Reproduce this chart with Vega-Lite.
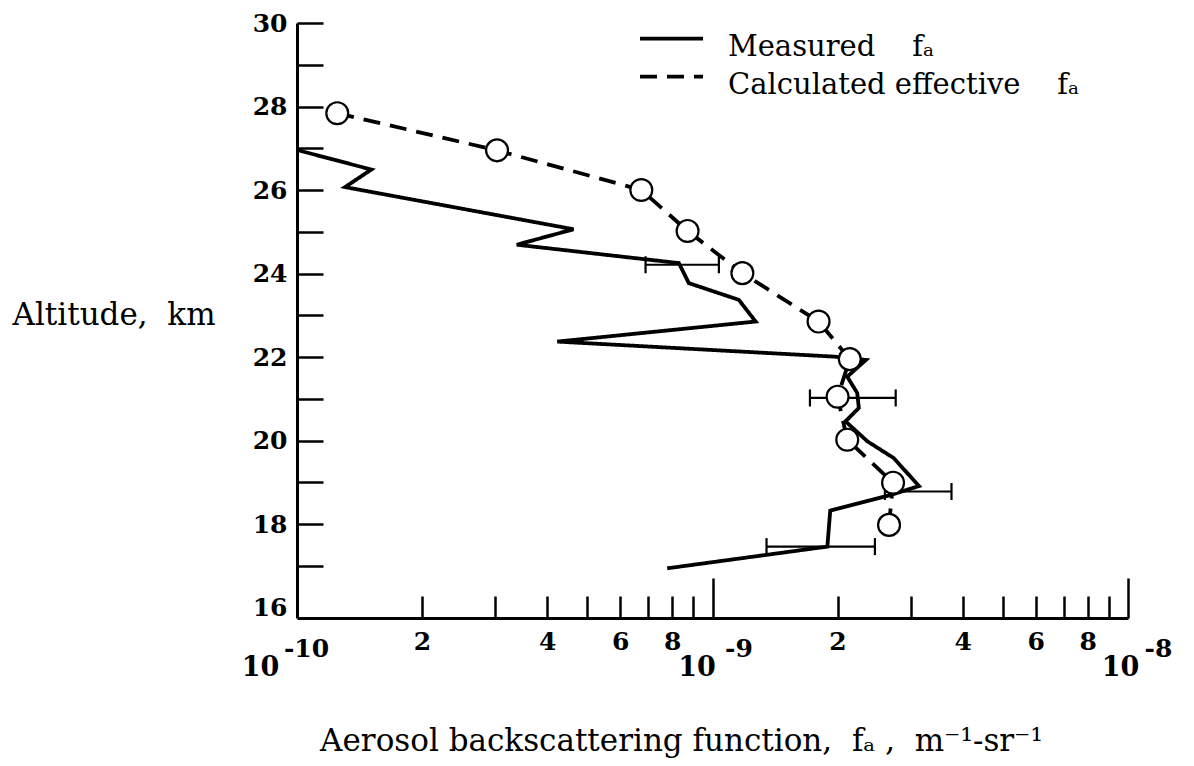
{
  "$schema": "https://vega.github.io/schema/vega-lite/v6.json",
  "width": 831,
  "height": 595,
  "autosize": {"type": "none"},
  "padding": {"left": 297, "top": 23, "right": 66, "bottom": 148},
  "background": "white",
  "datasets": {
    "lines": [
      {"series": "Measured\u00a0\u00a0\u00a0\u00a0f\u2090", "f": 1.0e-10, "alt": 26.96},
      {"series": "Measured\u00a0\u00a0\u00a0\u00a0f\u2090", "f": 1.51e-10, "alt": 26.49},
      {"series": "Measured\u00a0\u00a0\u00a0\u00a0f\u2090", "f": 1.305e-10, "alt": 26.07},
      {"series": "Measured\u00a0\u00a0\u00a0\u00a0f\u2090", "f": 4.63e-10, "alt": 25.06},
      {"series": "Measured\u00a0\u00a0\u00a0\u00a0f\u2090", "f": 3.38e-10, "alt": 24.69},
      {"series": "Measured\u00a0\u00a0\u00a0\u00a0f\u2090", "f": 8.30e-10, "alt": 24.25},
      {"series": "Measured\u00a0\u00a0\u00a0\u00a0f\u2090", "f": 8.77e-10, "alt": 23.77},
      {"series": "Measured\u00a0\u00a0\u00a0\u00a0f\u2090", "f": 1.157e-9, "alt": 23.37},
      {"series": "Measured\u00a0\u00a0\u00a0\u00a0f\u2090", "f": 1.27e-9, "alt": 22.85},
      {"series": "Measured\u00a0\u00a0\u00a0\u00a0f\u2090", "f": 4.23e-10, "alt": 22.37},
      {"series": "Measured\u00a0\u00a0\u00a0\u00a0f\u2090", "f": 1.96e-9, "alt": 22.01},
      {"series": "Measured\u00a0\u00a0\u00a0\u00a0f\u2090", "f": 2.34e-9, "alt": 21.93},
      {"series": "Measured\u00a0\u00a0\u00a0\u00a0f\u2090", "f": 2.11e-9, "alt": 21.53},
      {"series": "Measured\u00a0\u00a0\u00a0\u00a0f\u2090", "f": 2.23e-9, "alt": 21.14},
      {"series": "Measured\u00a0\u00a0\u00a0\u00a0f\u2090", "f": 2.25e-9, "alt": 20.78},
      {"series": "Measured\u00a0\u00a0\u00a0\u00a0f\u2090", "f": 2.09e-9, "alt": 20.46},
      {"series": "Measured\u00a0\u00a0\u00a0\u00a0f\u2090", "f": 2.36e-9, "alt": 19.98},
      {"series": "Measured\u00a0\u00a0\u00a0\u00a0f\u2090", "f": 2.73e-9, "alt": 19.58},
      {"series": "Measured\u00a0\u00a0\u00a0\u00a0f\u2090", "f": 3.14e-9, "alt": 18.91},
      {"series": "Measured\u00a0\u00a0\u00a0\u00a0f\u2090", "f": 2.69e-9, "alt": 18.70},
      {"series": "Measured\u00a0\u00a0\u00a0\u00a0f\u2090", "f": 1.92e-9, "alt": 18.32},
      {"series": "Measured\u00a0\u00a0\u00a0\u00a0f\u2090", "f": 1.89e-9, "alt": 17.46},
      {"series": "Measured\u00a0\u00a0\u00a0\u00a0f\u2090", "f": 7.78e-10, "alt": 16.94},
      {"series": "Calculated effective\u00a0\u00a0\u00a0\u00a0f\u2090", "f": 1.25e-10, "alt": 27.84},
      {"series": "Calculated effective\u00a0\u00a0\u00a0\u00a0f\u2090", "f": 3.03e-10, "alt": 26.95},
      {"series": "Calculated effective\u00a0\u00a0\u00a0\u00a0f\u2090", "f": 6.74e-10, "alt": 26.0},
      {"series": "Calculated effective\u00a0\u00a0\u00a0\u00a0f\u2090", "f": 8.71e-10, "alt": 25.02},
      {"series": "Calculated effective\u00a0\u00a0\u00a0\u00a0f\u2090", "f": 1.18e-9, "alt": 24.01},
      {"series": "Calculated effective\u00a0\u00a0\u00a0\u00a0f\u2090", "f": 1.80e-9, "alt": 22.85},
      {"series": "Calculated effective\u00a0\u00a0\u00a0\u00a0f\u2090", "f": 2.14e-9, "alt": 21.95},
      {"series": "Calculated effective\u00a0\u00a0\u00a0\u00a0f\u2090", "f": 2.00e-9, "alt": 21.05},
      {"series": "Calculated effective\u00a0\u00a0\u00a0\u00a0f\u2090", "f": 2.11e-9, "alt": 20.02},
      {"series": "Calculated effective\u00a0\u00a0\u00a0\u00a0f\u2090", "f": 2.72e-9, "alt": 18.99},
      {"series": "Calculated effective\u00a0\u00a0\u00a0\u00a0f\u2090", "f": 2.66e-9, "alt": 17.98}
    ],
    "err": [
      {"alt": 24.21, "lo": 6.9e-10, "hi": 1.036e-9},
      {"alt": 21.02, "lo": 1.716e-9, "hi": 2.76e-9},
      {"alt": 18.78, "lo": 2.6e-9, "hi": 3.76e-9},
      {"alt": 17.46, "lo": 1.349e-9, "hi": 2.46e-9}
    ]
  },
  "layer": [
    {
      "data": {"name": "lines"},
      "mark": {"type": "line", "color": "black", "strokeWidth": 3.8, "opacity": 1},
      "encoding": {
        "x": {
          "field": "f", "type": "quantitative",
          "scale": {"type": "log", "domain": [1e-10, 1e-8], "nice": false},
          "axis": {
            "orient": "bottom",
            "values": [2e-10, 3e-10, 4e-10, 5e-10, 6e-10, 7e-10, 8e-10, 9e-10, 2e-9, 3e-9, 4e-9, 5e-9, 6e-9, 7e-9, 8e-9, 9e-9],
            "tickSize": -22, "tickWidth": 2.5, "labels": false,
            "domain": true, "domainWidth": 3, "title": null, "grid": false
          }
        },
        "y": {
          "field": "alt", "type": "quantitative",
          "scale": {"domain": [15.75, 30], "nice": false, "zero": false},
          "axis": {
            "orient": "left",
            "values": [17, 18, 19, 20, 21, 22, 23, 24, 25, 26, 27, 28, 29, 30],
            "tickSize": -26, "tickWidth": 2.5, "labels": false,
            "domain": true, "domainWidth": 3, "title": null, "grid": false
          }
        },
        "strokeDash": {
          "field": "series", "type": "nominal",
          "scale": {"domain": ["Measured\u00a0\u00a0\u00a0\u00a0f\u2090", "Calculated effective\u00a0\u00a0\u00a0\u00a0f\u2090"], "range": [[1, 0], [17, 10]]},
          "legend": {
            "orient": "none", "legendX": 360, "legendY": 9, "title": null, "padding": 0,
            "symbolType": "M-3,-0.75H3", "symbolSize": 441, "symbolStrokeWidth": 3.8,
            "symbolStrokeColor": "black", "symbolFillColor": "transparent",
            "labelFont": "DejaVu Serif", "labelFontSize": 29, "labelColor": "black",
            "labelBaseline": "middle",
            "labelOffset": 42, "rowPadding": 7, "labelLimit": 0
          }
        },
        "order": {"field": "alt", "type": "quantitative", "sort": "descending"}
      }
    },
    {
      "data": {"name": "err"},
      "mark": {"type": "rule", "color": "black", "strokeWidth": 2.2, "opacity": 1},
      "encoding": {
        "x": {
          "field": "lo", "type": "quantitative",
          "scale": {"type": "log", "domain": [1e-10, 1e-8], "nice": false},
          "axis": {
            "orient": "bottom", "values": [1e-9, 1e-8],
            "tickSize": -40, "tickWidth": 2.5, "labels": false,
            "domain": false, "title": null, "grid": false
          }
        },
        "x2": {"field": "hi"},
        "y": {
          "field": "alt", "type": "quantitative",
          "scale": {"domain": [15.75, 30], "nice": false, "zero": false},
          "axis": {
            "orient": "left",
            "values": [16, 18, 20, 22, 24, 26, 28, 30],
            "ticks": false, "tickSize": 0, "domain": false, "grid": false,
            "labelFont": "DejaVu Serif", "labelFontSize": 25, "labelFontWeight": "bold", "labelPadding": 10,
            "title": "Altitude,\u00a0\u00a0km", "titleAngle": 0, "titleX": -285, "titleY": 292,
            "titleAlign": "left", "titleBaseline": "middle",
            "titleFont": "DejaVu Serif", "titleFontSize": 31, "titleFontWeight": "normal"
          }
        }
      }
    },
    {
      "data": {"name": "err"},
      "mark": {"type": "tick", "orient": "vertical", "color": "black", "size": 17, "thickness": 2.2, "opacity": 1},
      "encoding": {
        "x": {
          "field": "lo", "type": "quantitative",
          "scale": {"type": "log", "domain": [1e-10, 1e-8], "nice": false},
          "axis": {
            "orient": "bottom",
            "values": [2e-10, 4e-10, 6e-10, 8e-10, 2e-9, 4e-9, 6e-9, 8e-9],
            "ticks": false, "tickSize": 0, "domain": false, "grid": false,
            "labelExpr": "substring(format(datum.value, '.0e'), 0, 1)",
            "labelFont": "DejaVu Serif", "labelFontSize": 25, "labelFontWeight": "bold", "labelPadding": 11,
            "labelFlush": false, "labelOverlap": false, "title": null
          }
        },
        "y": {
          "field": "alt", "type": "quantitative",
          "scale": {"domain": [15.75, 30], "nice": false, "zero": false},
          "axis": null
        }
      }
    },
    {
      "data": {"name": "err"},
      "mark": {"type": "tick", "orient": "vertical", "color": "black", "size": 17, "thickness": 2.2, "opacity": 1},
      "encoding": {
        "x": {
          "field": "hi", "type": "quantitative",
          "scale": {"type": "log", "domain": [1e-10, 1e-8], "nice": false},
          "axis": {
            "orient": "bottom",
            "values": [1e-10, 1e-9, 1e-8],
            "ticks": false, "tickSize": 0, "domain": false, "grid": false,
            "labelExpr": "datum.value < 5e-10 ? '-10' : datum.value < 5e-9 ? '-9' : '-8'",
            "labelOffset": {"expr": "datum.value < 5e-10 ? 9 : datum.value < 5e-9 ? 26 : 30"},
            "labelFont": "DejaVu Serif", "labelFontSize": 25, "labelFontWeight": "bold", "labelPadding": 18,
            "labelFlush": false, "labelOverlap": false, "title": null
          }
        },
        "y": {
          "field": "alt", "type": "quantitative",
          "scale": {"domain": [15.75, 30], "nice": false, "zero": false},
          "axis": null
        }
      }
    },
    {
      "data": {"name": "lines"},
      "transform": [{"filter": "substring(datum.series, 0, 4) === 'Calc'"}],
      "mark": {"type": "point", "shape": "circle", "filled": false, "fill": "white", "stroke": "black", "strokeWidth": 2.2, "size": 480, "opacity": 1},
      "encoding": {
        "x": {
          "field": "f", "type": "quantitative",
          "scale": {"type": "log", "domain": [1e-10, 1e-8], "nice": false},
          "axis": {
            "orient": "bottom",
            "values": [1e-10, 1e-9, 1e-8],
            "ticks": false, "tickSize": 0, "domain": false, "grid": false,
            "labelExpr": "'10'",
            "labelOffset": {"expr": "datum.value < 5e-10 ? -37 : datum.value < 5e-9 ? -16 : -8"},
            "labelFont": "DejaVu Serif", "labelFontSize": 27, "labelFontWeight": "bold", "labelPadding": 36,
            "labelFlush": false, "labelOverlap": false,
            "title": "Aerosol backscattering function,\u00a0\u00a0f\u2090 ,\u00a0\u00a0m\u207b\u00b9-sr\u207b\u00b9",
            "titleX": 384, "titleY": 123, "titleAlign": "center", "titleBaseline": "middle",
            "titleFont": "DejaVu Serif", "titleFontSize": 31, "titleFontWeight": "normal"
          }
        },
        "y": {
          "field": "alt", "type": "quantitative",
          "scale": {"domain": [15.75, 30], "nice": false, "zero": false},
          "axis": null
        }
      }
    }
  ],
  "resolve": {"axis": {"x": "independent", "y": "independent"}},
  "config": {
    "view": {"stroke": null},
    "axis": {"domainColor": "black", "tickColor": "black", "labelColor": "black", "titleColor": "black", "grid": false}
  }
}
